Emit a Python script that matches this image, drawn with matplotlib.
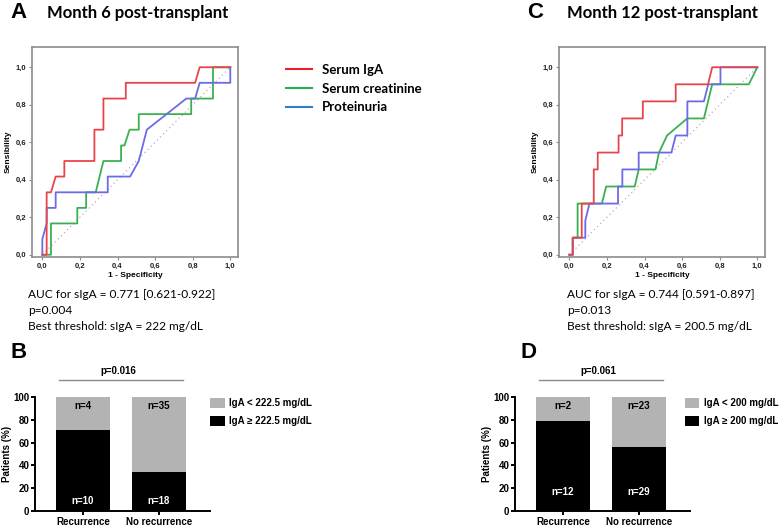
import numpy as np
import matplotlib.pyplot as plt
from matplotlib.lines import Line2D
from matplotlib.ticker import FuncFormatter

# ---- ROC data, month 6 (x = 1 - specificity, y = sensitivity) ----
m6_iga_x = [0, 0.023, 0.023, 0.046, 0.071, 0.117, 0.117, 0.277, 0.277, 0.325, 0.325, 0.444, 0.444, 0.813, 0.837, 1.0]
m6_iga_y = [0, 0, 0.333, 0.333, 0.417, 0.417, 0.5, 0.5, 0.667, 0.667, 0.833, 0.833, 0.917, 0.917, 1.0, 1.0]
m6_crea_x = [0, 0.046, 0.046, 0.186, 0.186, 0.233, 0.233, 0.284, 0.325, 0.419, 0.419, 0.437, 0.464, 0.513, 0.513, 0.792, 0.792, 0.908, 0.908, 1.0]
m6_crea_y = [0, 0, 0.167, 0.167, 0.25, 0.25, 0.333, 0.333, 0.5, 0.5, 0.583, 0.583, 0.667, 0.667, 0.75, 0.75, 0.833, 0.833, 1.0, 1.0]
m6_prot_x = [0, 0, 0.023, 0.023, 0.071, 0.071, 0.348, 0.348, 0.467, 0.513, 0.556, 0.766, 0.813, 0.837, 1.0, 1.0]
m6_prot_y = [0, 0.083, 0.167, 0.25, 0.25, 0.333, 0.333, 0.417, 0.417, 0.5, 0.667, 0.833, 0.833, 0.917, 0.917, 1.0]

# ---- ROC data, month 12 ----
m12_iga_x = [0, 0.018, 0.018, 0.066, 0.066, 0.130, 0.130, 0.151, 0.151, 0.262, 0.262, 0.281, 0.281, 0.391, 0.391, 0.566, 0.566, 0.738, 0.760, 1.0]
m12_iga_y = [0, 0, 0.091, 0.091, 0.273, 0.273, 0.455, 0.455, 0.545, 0.545, 0.636, 0.636, 0.727, 0.727, 0.818, 0.818, 0.909, 0.909, 1.0, 1.0]
m12_crea_x = [0, 0.018, 0.018, 0.044, 0.044, 0.173, 0.196, 0.348, 0.369, 0.458, 0.477, 0.520, 0.627, 0.716, 0.760, 0.955, 1.0]
m12_crea_y = [0, 0, 0.091, 0.091, 0.273, 0.273, 0.364, 0.364, 0.455, 0.455, 0.545, 0.636, 0.727, 0.727, 0.909, 0.909, 1.0]
m12_prot_x = [0, 0.018, 0.018, 0.085, 0.085, 0.107, 0.259, 0.259, 0.282, 0.282, 0.369, 0.369, 0.543, 0.566, 0.628, 0.628, 0.716, 0.739, 0.804, 0.804, 1.0]
m12_prot_y = [0, 0, 0.091, 0.091, 0.182, 0.273, 0.273, 0.364, 0.364, 0.455, 0.455, 0.545, 0.545, 0.636, 0.636, 0.818, 0.818, 0.909, 0.909, 1.0, 1.0]

# ---- bar data (% of patients) ----
groups = ['Recurrence', 'No recurrence']
b_high = [71.4, 34.0]
b_low = [28.6, 66.0]
b_n_high = ['n=10', 'n=18']
b_n_low = ['n=4', 'n=35']
d_high = [79.0, 55.8]
d_low = [21.0, 44.2]
d_n_high = ['n=12', 'n=29']
d_n_low = ['n=2', 'n=23']

W, H = 781, 528
fig = plt.figure(figsize=(W / 100, H / 100), dpi=100)

CAL = ['Lato', 'DejaVu Sans']
ARI = ['Liberation Sans', 'DejaVu Sans']


def fx(px):
    return px / W


def fy(py):
    return 1 - py / H


comma = FuncFormatter(lambda v, p: ('%.1f' % v).replace('.', ','))


def roc_panel(left, curves):
    ax = fig.add_axes([fx(left), fy(257), fx(206), 210 / H])
    ax.plot([0, 1], [0, 1], ls=(0, (1, 2.5)), color='#c4a6c4', lw=0.9)
    for xs, ys, c in curves:
        ax.plot(xs, ys, color=c, lw=1.3)
    ax.set_xlim(-0.055, 1.041)
    ax.set_ylim(-0.012, 1.108)
    ticks = np.arange(0, 1.01, 0.2)
    ax.set_xticks(ticks)
    ax.set_yticks(ticks)
    ax.xaxis.set_major_formatter(comma)
    ax.yaxis.set_major_formatter(comma)
    for s in ax.spines.values():
        s.set_color('#8c8c8c')
        s.set_linewidth(1.2)
    ax.tick_params(length=2, width=0.8, color='#8c8c8c', labelsize=5.5, pad=2, labelcolor='#222222')
    for lbl in ax.get_xticklabels() + ax.get_yticklabels():
        lbl.set_fontweight('bold')
        lbl.set_family(ARI)
    ax.set_xlabel('1 - Specificity', fontsize=6, fontweight='bold', family=ARI, labelpad=2)
    ax.set_ylabel('Sensibility', fontsize=6, fontweight='bold', family=ARI, labelpad=3)
    return ax


red, green, blue = '#e8454a', '#3cb050', '#6b6be6'
axA = roc_panel(32, [(m6_crea_x, m6_crea_y, green), (m6_prot_x, m6_prot_y, blue), (m6_iga_x, m6_iga_y, red)])
axC = roc_panel(559, [(m12_crea_x, m12_crea_y, green), (m12_prot_x, m12_prot_y, blue), (m12_iga_x, m12_iga_y, red)])

# panel letters and titles
for x, y, s in [(10, 12, 'A'), (527, 12, 'C'), (10, 352, 'B'), (521, 352, 'D')]:
    fig.text(fx(x), fy(y), s, fontsize=16, fontweight='bold', family=ARI, va='center', ha='left')
fig.text(fx(137.5), fy(13), 'Month 6 post-transplant', fontsize=12, fontweight='bold', family=CAL, ha='center', va='center')
fig.text(fx(662.5), fy(13), 'Month 12 post-transplant', fontsize=12, fontweight='bold', family=CAL, ha='center', va='center')

# AUC text
auc_a = ['AUC for sIgA = 0.771 [0.621-0.922]', 'p=0.004', 'Best threshold: sIgA = 222 mg/dL']
auc_c = ['AUC for sIgA = 0.744 [0.591-0.897]', 'p=0.013', 'Best threshold: sIgA = 200.5 mg/dL']
for i, (ta, tc) in enumerate(zip(auc_a, auc_c)):
    fig.text(fx(28), fy(295 + 16 * i), ta, fontsize=8.6, family=CAL, va='center')
    fig.text(fx(567), fy(295 + 16 * i), tc, fontsize=8.6, family=CAL, va='center')

# ROC legend in the middle
handles = [Line2D([], [], color='#e8202a', lw=1.5), Line2D([], [], color='#22b14c', lw=1.5),
           Line2D([], [], color='#2f7fc6', lw=1.5)]
leg = fig.legend(handles, ['Serum IgA', 'Serum creatinine', 'Proteinuria'], loc='upper left',
                 bbox_to_anchor=(fx(286), fy(64)), frameon=False, handlelength=2.0, handletextpad=0.75,
                 borderpad=0, borderaxespad=0, labelspacing=0.5,
                 prop={'family': CAL, 'weight': 'bold', 'size': 9.5})


def bar_panel(left, high, low, n_high, n_low, ptxt, labels, ny_high, leg_x):
    ax = fig.add_axes([fx(left), fy(511), fx(175), 114 / H])
    x = np.arange(len(groups))
    bh = ax.bar(x, high, width=0.72, color='black')
    bl = ax.bar(x, low, bottom=high, width=0.72, color='#b3b3b3')
    ax.set_xlim(-0.632, 1.671)
    ax.set_ylim(0, 100)
    ax.set_yticks(np.arange(0, 101, 20))
    ax.set_xticks(x)
    ax.set_xticklabels(groups)
    for s in ['top', 'right']:
        ax.spines[s].set_visible(False)
    for s in ['left', 'bottom']:
        ax.spines[s].set_linewidth(1.4)
    ax.tick_params(length=3, width=1.4, labelsize=7, pad=1)
    for lbl in ax.get_xticklabels() + ax.get_yticklabels():
        lbl.set_fontweight('bold')
        lbl.set_family(ARI)
    ax.set_ylabel('Patients (%)', fontsize=7, fontweight='bold', family=ARI, labelpad=1)
    for i in x:
        ax.text(i, 92, n_low[i], color='black', ha='center', va='center', fontsize=7, fontweight='bold', family=ARI)
        ax.text(i, ny_high, n_high[i], color='white', ha='center', va='center', fontsize=7, fontweight='bold', family=ARI)
    ax.plot([-0.31, 1.32], [115, 115], color='#8a8a8a', lw=1.0, clip_on=False)
    ax.text(0.47, 123, ptxt, ha='center', va='center', fontsize=7, fontweight='bold', family=ARI)
    ax.legend([bl, bh], labels, loc='upper left', bbox_to_anchor=(leg_x, 0.99), frameon=False,
              handlelength=1.5, handleheight=1.1, handletextpad=0.5, borderaxespad=0, borderpad=0,
              labelspacing=0.85, prop={'family': ARI, 'weight': 'bold', 'size': 7})
    return ax


bar_panel(35, b_high, b_low, b_n_high, b_n_low, 'p=0.016',
          ['IgA < 222.5 mg/dL', 'IgA \u2265 222.5 mg/dL'], 8.6, 1.0)
bar_panel(515, d_high, d_low, d_n_high, d_n_low, 'p=0.061',
          ['IgA < 200 mg/dL', 'IgA \u2265 200 mg/dL'], 17, 0.97)

fig.savefig('out.png', dpi=100)
